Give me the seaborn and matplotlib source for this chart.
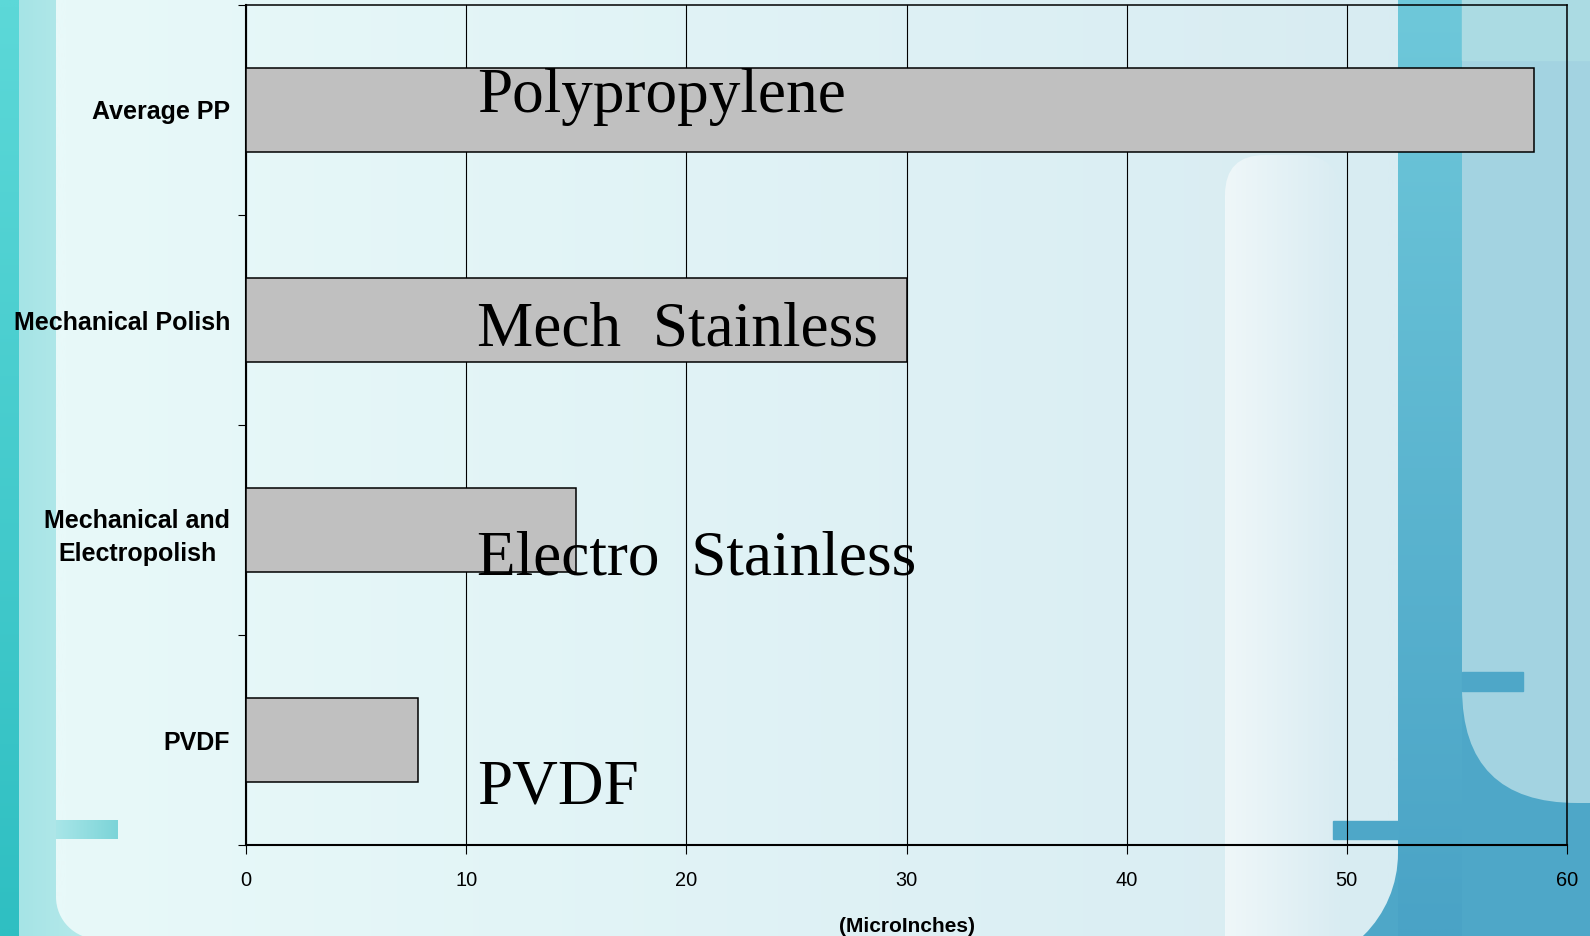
import numpy as np
import pandas as pd
import matplotlib.pyplot as plt
import seaborn as sns
from matplotlib.colors import to_rgb
from matplotlib.patches import Rectangle, FancyBboxPatch, PathPatch
from matplotlib.path import Path

# surface roughness values
categories = ["Average PP", "Mechanical Polish", "Mechanical and\nElectropolish", "PVDF"]
roughness = [58.5, 30.0, 15.0, 7.8]
notes = ["Polypropylene", "Mech  Stainless", "Electro  Stainless", "PVDF"]
x_ticks = [0, 10, 20, 30, 40, 50, 60]

df = pd.DataFrame({"finish": categories, "roughness": roughness})

sns.set_theme(style="white")
plt.rcParams["font.family"] = ["Liberation Sans", "DejaVu Sans"]
plt.rcParams["text.color"] = "black"
plt.rcParams["xtick.color"] = "black"
plt.rcParams["ytick.color"] = "black"
plt.rcParams["axes.labelcolor"] = "black"

W, H = 1590, 936
fig = plt.figure(figsize=(W / 100, H / 100), dpi=100)

# slide background, drawn in pixel coordinates
bg = fig.add_axes([0, 0, 1, 1], zorder=0)
bg.set_xlim(0, W)
bg.set_ylim(H, 0)
bg.axis("off")


def grad(ax, x0, x1, y0, y1, c0, c1, vertical=True, clip=None):
    t = np.linspace(0, 1, 64)
    t = t[:, None, None] if vertical else t[None, :, None]
    img = np.array(to_rgb(c0)) * (1 - t) + np.array(to_rgb(c1)) * t
    im = ax.imshow(img, extent=[x0, x1, y1, y0], aspect="auto", interpolation="bilinear")
    if clip is not None:
        im.set_clip_path(clip)
    return im


bg.add_patch(Rectangle((0, 0), W, H, color="#4ea7c8", zorder=0))
grad(bg, 19, 200, 0, H, "#a6e4e6", "#d0f2f2", vertical=False)
grad(bg, 0, 19, 0, H, "#5cd8d8", "#2fbfc2")
grad(bg, 1398, 1462, 0, H, "#6ec8da", "#4aa3c6")

# light blue block on the right with rounded lower-left corner
rb = FancyBboxPatch((1462, -200), 300, 1003, boxstyle="round,pad=0,rounding_size=115",
                    facecolor="#a3d3e1", edgecolor="none", zorder=1)
bg.add_patch(rb)
bg.add_patch(Rectangle((1462, -10), 200, 70, color="#abdbe3", zorder=1))

# main light panel with rounded bottom corners
r1, r2 = 42, 116
bottom_l, bottom_r = 939, 969
k = 0.5523
verts = [(56, -10), (56, bottom_l - r1),
         (56, bottom_l - r1 + k * r1), (56 + r1 - k * r1, bottom_l), (56 + r1, bottom_l),
         (1398 - r2, bottom_r),
         (1398 - r2 + k * r2, bottom_r), (1398, bottom_r - r2 + k * r2), (1398, bottom_r - r2),
         (1398, -10), (56, -10)]
codes = [Path.MOVETO, Path.LINETO, Path.CURVE4, Path.CURVE4, Path.CURVE4, Path.LINETO,
         Path.CURVE4, Path.CURVE4, Path.CURVE4, Path.LINETO, Path.CLOSEPOLY]
panel = PathPatch(Path(verts, codes), facecolor="none", edgecolor="none")
bg.add_patch(panel)
grad(bg, 56, 1398, -10, 975, "#e8f9f9", "#d8ecf2", vertical=False, clip=panel)

# softer white column near the right
band = FancyBboxPatch((1225, 155), 115, 900, boxstyle="round,pad=0,rounding_size=40",
                      facecolor="none", edgecolor="none")
bg.add_patch(band)
grad(bg, 1225, 1340, 155, H, "#eff7f9", "#d9ecf2", vertical=False, clip=band)

grad(bg, 56, 118, 820, 839, "#a8e6e8", "#7cd4d8", vertical=False)
bg.add_patch(Rectangle((1333, 821), 65, 18, color="#4ea7c8", zorder=3))
bg.add_patch(Rectangle((1462, 672), 61, 19, color="#4ea7c8", zorder=3))

# chart
ax = fig.add_axes([246 / W, 1 - 845 / H, (1567 - 246) / W, (845 - 5) / H], zorder=2)
ax.set_facecolor("none")

sns.barplot(data=df, x="roughness", y="finish", orient="h", color="#c0c0c0",
            edgecolor="black", linewidth=1.1, width=0.4, saturation=1, ax=ax, zorder=3)

ax.set_xlim(0, 60)
ax.set_xticks(x_ticks)
ax.set_xticklabels([str(v) for v in x_ticks], fontsize=14.4)
ax.set_ylim(3.5, -0.5)
ax.set_yticks([-0.5, 0.5, 1.5, 2.5, 3.5])
ax.set_yticklabels([])
ax.set_yticks(range(len(categories)), minor=True)
ax.set_yticklabels(categories, minor=True, fontsize=18, fontweight="bold",
                   multialignment="center", linespacing=1.5)
ax.tick_params(axis="y", which="major", direction="out", length=6, width=0.8, color="black", left=True)
ax.tick_params(axis="y", which="minor", length=0, pad=11.5)
ax.tick_params(axis="x", direction="out", length=6.5, width=0.8, color="black", pad=12.5, bottom=True)

ax.xaxis.grid(True, color="black", linewidth=0.8)
ax.yaxis.grid(False)
ax.set_axisbelow(True)

for side in ["left", "bottom"]:
    ax.spines[side].set_linewidth(1.5)
for side in ["top", "right"]:
    ax.spines[side].set_linewidth(1.1)
for s in ax.spines.values():
    s.set_color("black")
    s.set_visible(True)

ax.set_ylabel("")
ax.set_xlabel("(MicroInches)", fontsize=15, fontweight="bold", labelpad=19)

# big labels inside the chart
note_y = [0.01, 1.12, 2.21, 3.3]
for txt, yy in zip(notes, note_y):
    ax.text(10.5, yy, txt, fontsize=45.5, family=["Liberation Serif", "DejaVu Serif"],
            va="baseline", ha="left", color="black", zorder=5)

fig.savefig("out.png", dpi=100)
